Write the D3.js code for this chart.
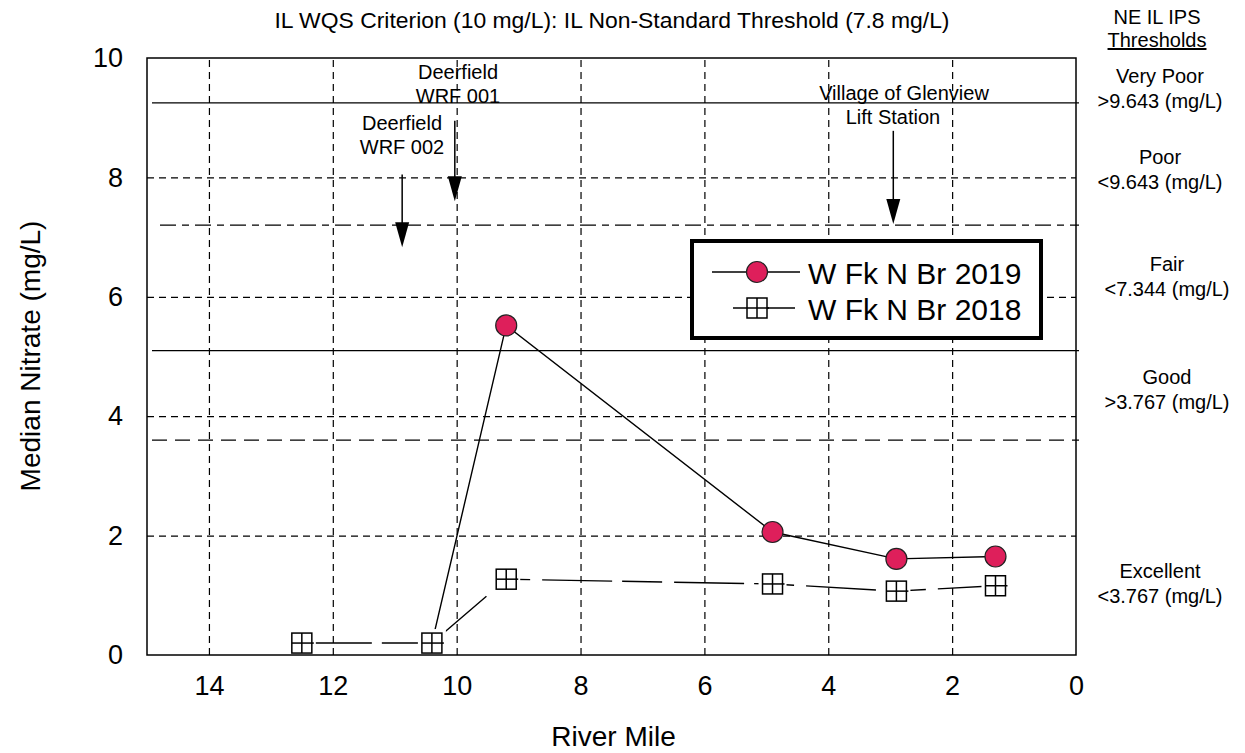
<!DOCTYPE html>
<html>
<head>
<meta charset="utf-8">
<script src="https://cdn.jsdelivr.net/npm/d3@7"></script>
<style>
  body { margin: 0; background: #fff; }
  svg { font-family: "Liberation Sans", Arial, sans-serif; }
  .grid line { stroke: #000; stroke-width: 1.2; stroke-dasharray: 7,5; }
  .grid path { display: none; }
  .axis path { display: none; }
  .axis text { font-size: 27px; fill: #000; }
</style>
</head>
<body>
<script>
// river miles and median nitrate values
var miles2019 = [10.4, 9.2, 4.9, 2.9, 1.3];
var nitrate2019 = [0.2, 5.52, 2.06, 1.61, 1.65];
var miles2018 = [12.5, 10.4, 9.2, 4.9, 2.9, 1.3];
var nitrate2018 = [0.2, 0.2, 1.27, 1.19, 1.07, 1.16];
// the 2019 point at 10.4 sits under the 2018 marker
var xTicks = [14, 12, 10, 8, 6, 4, 2, 0];
var yTicks = [0, 2, 4, 6, 8, 10];
// threshold lines (mg/L)
var refValues = [9.25, 7.2, 5.1, 3.6];
var refStyles = ["none", "16,6,7,6", "none", "15,8"];
// outfalls: label lines, river mile, arrow top and tip (mg/L)
var outfallLabels = [["Deerfield", "WRF 002"], ["Deerfield", "WRF 001"], ["Village of Glenview", "Lift Station"]];
var outfallMiles = [10.88, 10.03, 2.95];
var arrowTop = [8.05, 8.95, 8.78];
var arrowTip = [6.83, 7.6, 7.22];
var ipsLabels = [["Very Poor", ">9.643 (mg/L)"], ["Poor", "<9.643 (mg/L)"], ["Fair", "<7.344 (mg/L)"],
  ["Good", ">3.767 (mg/L)"], ["Excellent", "<3.767 (mg/L)"]];

var W = 1245, H = 753;
var pLeft = 147, pRight = 1076, pTop = 58, pBottom = 655;

var svg = d3.select("body").append("svg")
  .attr("width", W).attr("height", H);

var x = d3.scaleLinear().domain([15, 0]).range([pLeft, pRight]);
var y = d3.scaleLinear().domain([0, 10]).range([pBottom, pTop]);

// grid
svg.append("g").attr("class", "grid")
  .attr("transform", "translate(0," + pBottom + ")")
  .call(d3.axisBottom(x).tickValues([14, 12, 10, 8, 6, 4, 2]).tickSize(-(pBottom - pTop)).tickFormat(""));
svg.append("g").attr("class", "grid")
  .attr("transform", "translate(" + pLeft + ",0)")
  .call(d3.axisLeft(y).tickValues([2, 4, 6, 8]).tickSize(-(pRight - pLeft)).tickFormat(""));

// threshold lines
svg.selectAll(".ref").data(refValues).enter().append("line")
  .attr("x1", function(d, i) { return i == 1 ? pLeft + 13 : pLeft + 5; })
  .attr("x2", pRight + 3)
  .attr("y1", function(d) { return y(d); })
  .attr("y2", function(d) { return y(d); })
  .attr("stroke", "#000").attr("stroke-width", 1.3)
  .attr("stroke-dasharray", function(d, i) { return refStyles[i]; });

// axes
svg.append("g").attr("class", "axis")
  .attr("transform", "translate(0," + pBottom + ")")
  .call(d3.axisBottom(x).tickValues(xTicks).tickSize(0).tickPadding(21));
svg.append("g").attr("class", "axis")
  .attr("transform", "translate(" + pLeft + ",0)")
  .call(d3.axisLeft(y).tickValues(yTicks).tickSize(0).tickPadding(24));

svg.append("text").text("River Mile")
  .attr("x", (pLeft + pRight) / 2 + 2).attr("y", 746)
  .attr("text-anchor", "middle").style("font-size", "28px");
svg.append("text").text("Median Nitrate (mg/L)")
  .attr("transform", "translate(40," + 356 + ") rotate(-90)")
  .attr("text-anchor", "middle").style("font-size", "28px");

// title
svg.append("text").text("IL WQS Criterion (10 mg/L): IL Non-Standard Threshold (7.8 mg/L)")
  .attr("x", 612).attr("y", 28).attr("text-anchor", "middle")
  .attr("textLength", 675).attr("lengthAdjust", "spacingAndGlyphs")
  .style("font-size", "21.5px");

// right side thresholds
svg.append("text").text("NE IL IPS").attr("x", 1157).attr("y", 24)
  .attr("text-anchor", "middle").style("font-size", "20px");
svg.append("text").text("Thresholds").attr("x", 1157).attr("y", 47)
  .attr("text-anchor", "middle").style("font-size", "20px")
  .style("text-decoration", "underline");
var ipsY = [83, 164, 271, 384, 578];
var ipsX = [1160, 1160, 1167, 1167, 1160];
ipsLabels.forEach(function(lab, i) {
  var t = svg.append("text").attr("text-anchor", "middle").style("font-size", "20px");
  t.append("tspan").attr("x", ipsX[i]).attr("y", ipsY[i]).text(lab[0]);
  t.append("tspan").attr("x", ipsX[i]).attr("y", ipsY[i] + 25).text(lab[1]);
});

// outfall arrows
var labelX = [402, 458, 904];
var labelX2 = [402, 458, 893];
var labelY = [130, 79, 100];
outfallLabels.forEach(function(lab, i) {
  var t = svg.append("text").attr("text-anchor", "middle").style("font-size", "20px");
  t.append("tspan").attr("x", labelX[i]).attr("y", labelY[i]).text(lab[0]);
  t.append("tspan").attr("x", labelX2[i]).attr("y", labelY[i] + 24).text(lab[1]);
  var ax = x(outfallMiles[i]), ay1 = y(arrowTop[i]), ay2 = y(arrowTip[i]);
  svg.append("line").attr("x1", ax).attr("x2", ax).attr("y1", ay1).attr("y2", ay2 - 20)
    .attr("stroke", "#000").attr("stroke-width", 1.5);
  svg.append("path")
    .attr("d", "M" + (ax - 7) + "," + (ay2 - 25) + "L" + (ax + 7) + "," + (ay2 - 25) + "L" + ax + "," + ay2 + "Z")
    .attr("fill", "#000");
});

// 2019 series
var line = d3.line().x(function(d) { return x(d[0]); }).y(function(d) { return y(d[1]); });
var pts2019 = d3.zip(miles2019, nitrate2019);
var pts2018 = d3.zip(miles2018, nitrate2018);

svg.append("path").datum(pts2019).attr("d", line)
  .attr("fill", "none").attr("stroke", "#000").attr("stroke-width", 1.4);
svg.selectAll(".c19").data(pts2019).enter().append("circle")
  .attr("cx", function(d) { return x(d[0]); })
  .attr("cy", function(d) { return y(d[1]); })
  .attr("r", 10.5).attr("fill", "#de1f5b").attr("stroke", "#222").attr("stroke-width", 1.2);

// 2018 series
svg.append("path").datum(pts2018).attr("d", line)
  .attr("fill", "none").attr("stroke", "#000").attr("stroke-width", 1.4)
  .attr("stroke-dasharray", "70,10,40,12");

function gridSquare(g, cx, cy, s, halo) {
  if (halo) g.append("rect").attr("x", cx - s / 2 - 4).attr("y", cy - s / 2 - 4)
    .attr("width", s + 8).attr("height", s + 8).attr("fill", "#fff");
  g.append("rect").attr("x", cx - s / 2).attr("y", cy - s / 2).attr("width", s).attr("height", s)
    .attr("fill", "#fff").attr("stroke", "#000").attr("stroke-width", 1.5);
  g.append("line").attr("x1", cx).attr("x2", cx).attr("y1", cy - s / 2).attr("y2", cy + s / 2)
    .attr("stroke", "#000").attr("stroke-width", 1.5);
  g.append("line").attr("x1", cx - s / 2).attr("x2", cx + s / 2 + 2).attr("y1", cy).attr("y2", cy)
    .attr("stroke", "#000").attr("stroke-width", 1.5);
}
pts2018.forEach(function(d) { gridSquare(svg.append("g"), x(d[0]), y(d[1]), 20, true); });

// frame on top
svg.append("rect").attr("x", pLeft).attr("y", pTop)
  .attr("width", pRight - pLeft).attr("height", pBottom - pTop)
  .attr("fill", "none").attr("stroke", "#000").attr("stroke-width", 1.5);

// legend
var lg = svg.append("g");
lg.append("rect").attr("x", 692).attr("y", 241).attr("width", 349).attr("height", 97)
  .attr("fill", "#fff").attr("stroke", "#000").attr("stroke-width", 4);
lg.append("line").attr("x1", 712).attr("x2", 800).attr("y1", 272).attr("y2", 272)
  .attr("stroke", "#000").attr("stroke-width", 1.4);
lg.append("circle").attr("cx", 757).attr("cy", 272).attr("r", 10.5)
  .attr("fill", "#de1f5b").attr("stroke", "#222").attr("stroke-width", 1.2);
lg.append("line").attr("x1", 733).attr("x2", 795).attr("y1", 308).attr("y2", 308)
  .attr("stroke", "#000").attr("stroke-width", 1.4);
gridSquare(lg, 757, 308, 20, false);
lg.append("text").text("W Fk N Br 2019").attr("x", 808).attr("y", 284).style("font-size", "30px");
lg.append("text").text("W Fk N Br 2018").attr("x", 808).attr("y", 320).style("font-size", "30px");
</script>
</body>
</html>
